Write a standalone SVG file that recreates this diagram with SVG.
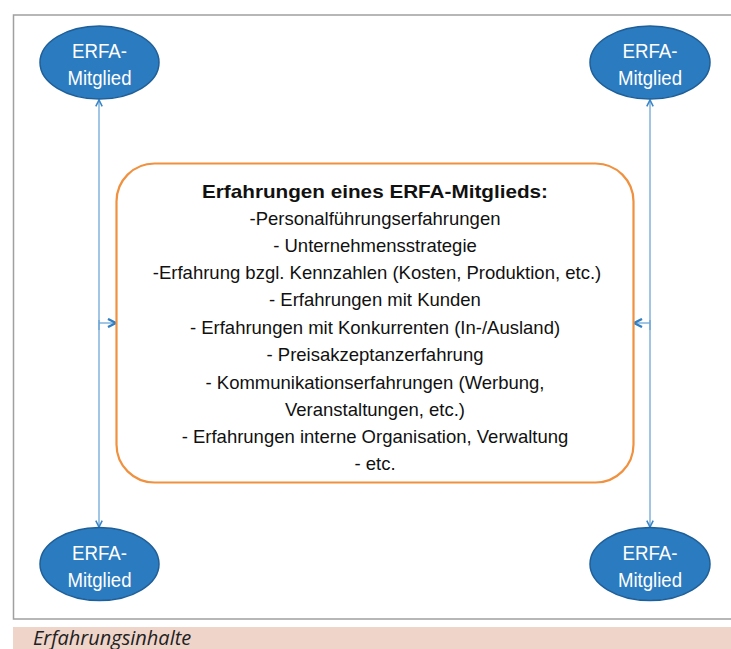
<svg xmlns="http://www.w3.org/2000/svg" width="731" height="649" viewBox="0 0 731 649">
<style>
.node ellipse{fill:#2b7bc0;stroke:#1f5f98;stroke-width:1.5}
.node text{fill:#fff;font-family:"Liberation Sans",Arial,sans-serif;font-size:21px;text-anchor:middle}
.conn{stroke:#6fa6d6;stroke-width:1.3;fill:none}
.box text{font-family:"Liberation Sans",Arial,sans-serif;font-size:18.5px;text-anchor:middle;fill:#111}
</style>
<defs>
<marker id="ah" viewBox="0 0 10 10" refX="9" refY="5" markerWidth="8" markerHeight="8" markerUnits="userSpaceOnUse" orient="auto">
<path d="M1,1 L9,5 L1,9" fill="none" stroke="#3a86c8" stroke-width="2"/>
</marker>
<marker id="ah2" viewBox="0 0 10 10" refX="9" refY="5" markerWidth="10" markerHeight="10" markerUnits="userSpaceOnUse" orient="auto">
<path d="M1,1 L9,5 L1,9" fill="none" stroke="#2f7fc4" stroke-width="2.4"/>
</marker>
</defs>
<rect x="0" y="0" width="731" height="649" fill="#fff"/>
<path d="M740,15 H13.5 V619 H740" fill="none" stroke="#a0a0a0" stroke-width="1.5"/>
<rect x="13" y="627" width="718" height="22" fill="#efd4ca"/>
<text x="33" y="645" font-family="'Open Sans','Noto Sans',sans-serif" font-style="italic" font-size="20" fill="#222">Erfahrungsinhalte</text>
<g id="connectors">
<line class="conn" x1="99" y1="330" x2="99" y2="100" marker-end="url(#ah)"/>
<line class="conn" x1="99" y1="320" x2="99" y2="527" marker-end="url(#ah)"/>
<line class="conn" x1="650" y1="330" x2="650" y2="100" marker-end="url(#ah)"/>
<line class="conn" x1="650" y1="320" x2="650" y2="527" marker-end="url(#ah)"/>
<line class="conn" x1="99" y1="323" x2="116" y2="323" stroke="#3a86c8" stroke-width="1.6" marker-end="url(#ah2)"/>
<line class="conn" x1="650" y1="323" x2="634" y2="323" stroke="#3a86c8" stroke-width="1.6" marker-end="url(#ah2)"/>
</g>
<g id="box" class="box">
<rect x="116.5" y="163.5" width="517" height="319" rx="38" fill="#fff" stroke="#f0913f" stroke-width="2.2"/>
<text x="375" y="198" font-weight="bold" font-size="21" textLength="346" lengthAdjust="spacingAndGlyphs">Erfahrungen eines ERFA-Mitglieds:</text>
<text x="375" y="225">-Personalführungserfahrungen</text>
<text x="375" y="252">- Unternehmensstrategie</text>
<text x="377" y="279">-Erfahrung bzgl. Kennzahlen (Kosten, Produktion, etc.)</text>
<text x="375" y="306">- Erfahrungen mit Kunden</text>
<text x="375" y="334">- Erfahrungen mit Konkurrenten (In-/Ausland)</text>
<text x="375" y="361">- Preisakzeptanzerfahrung</text>
<text x="375" y="389">- Kommunikationserfahrungen (Werbung,</text>
<text x="375" y="416">Veranstaltungen, etc.)</text>
<text x="375" y="443">- Erfahrungen interne Organisation, Verwaltung</text>
<text x="375" y="470">- etc.</text>
</g>
<g id="n1" class="node"><ellipse cx="99.5" cy="62.5" rx="59.5" ry="36.5"/><text x="99.5" y="58" textLength="55" lengthAdjust="spacingAndGlyphs">ERFA-</text><text x="99.5" y="85" textLength="64" lengthAdjust="spacingAndGlyphs">Mitglied</text></g>
<g id="n2" class="node"><ellipse cx="650" cy="62.5" rx="60" ry="36.5"/><text x="650" y="58" textLength="55" lengthAdjust="spacingAndGlyphs">ERFA-</text><text x="650" y="85" textLength="64" lengthAdjust="spacingAndGlyphs">Mitglied</text></g>
<g id="n3" class="node"><ellipse cx="99.5" cy="564" rx="59.5" ry="36.5"/><text x="99.5" y="559.5" textLength="55" lengthAdjust="spacingAndGlyphs">ERFA-</text><text x="99.5" y="586.5" textLength="64" lengthAdjust="spacingAndGlyphs">Mitglied</text></g>
<g id="n4" class="node"><ellipse cx="650" cy="564" rx="60" ry="36.5"/><text x="650" y="559.5" textLength="55" lengthAdjust="spacingAndGlyphs">ERFA-</text><text x="650" y="586.5" textLength="64" lengthAdjust="spacingAndGlyphs">Mitglied</text></g>
</svg>
